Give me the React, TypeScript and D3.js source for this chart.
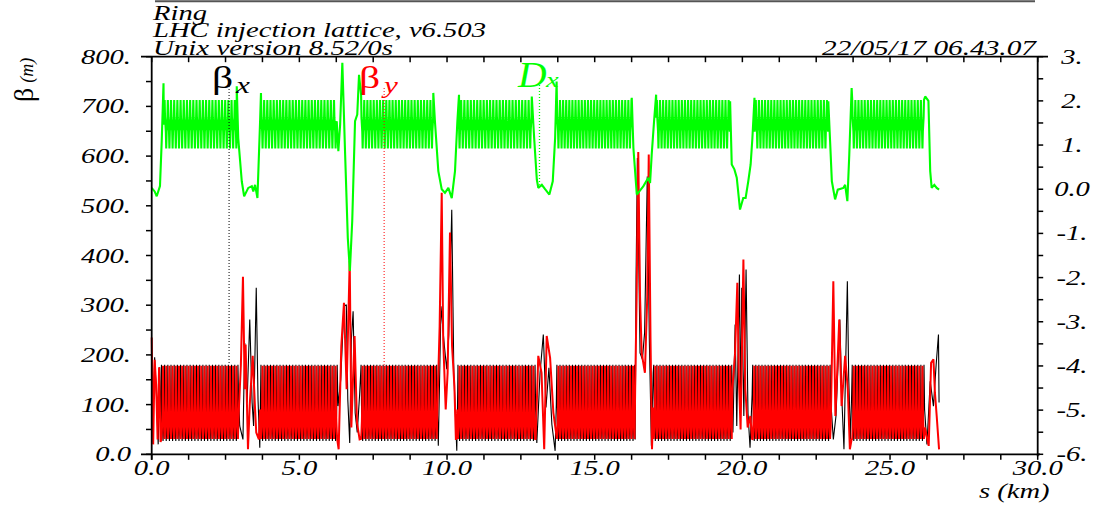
import React from 'react';
import * as d3 from 'd3';

const W = 1099;
const H = 506;

// ---------- axis values / labels ----------
const sLabelValues = [0, 5, 10, 15, 20, 25, 30];
const sTickLabels = ['0.0', '5.0', '10.0', '15.0', '20.0', '25.0', '30.0'];
const betaLabelValues = [0, 100, 200, 300, 400, 500, 600, 700, 800];
const betaTickLabels = ['0.0', '100.', '200.', '300.', '400.', '500.', '600.', '700.', '800.'];
const dxLabelValues = [3, 2, 1, 0, -1, -2, -3, -4, -5, -6];
const dxTickLabels = ['3.', '2.', '1.', '0.0', '-1.', '-2.', '-3.', '-4.', '-5.', '-6.'];

// ---------- lattice: arcs made of FODO cells ----------
const arcStart = [0.33, 3.70, 7.09, 10.37, 13.72, 17.00, 20.35, 23.72];
const arcEnd = [2.92, 6.28, 9.65, 12.98, 16.35, 19.64, 22.97, 26.15];
const cellLength = 0.1069; // km
const cellPhase = [0, 0.125, 0.25, 0.375, 0.5, 0.625, 0.75, 0.875];
const cellBetaX = [180, 100, 64, 44, 27, 44, 64, 100];
const cellBetaY = [31, 46, 66, 102, 178, 102, 66, 46];
const cellDx = [2.02, 1.62, 1.46, 1.3, 0.92, 1.3, 1.46, 1.62];

// ---------- insertion regions (s [km], value) ----------
const betaXInsertions: number[][][] = [
  [[0, 170], [0.04, 60], [0.10, 195], [0.16, 120], [0.22, 20], [0.27, 175], [0.32, 30]],
  [[2.94, 120], [2.98, 57], [3.09, 30], [3.15, 224], [3.23, 104], [3.32, 271], [3.40, 104], [3.45, 57], [3.54, 335], [3.60, 110], [3.66, 13]],
  [[6.31, 97], [6.40, 150], [6.51, 298], [6.59, 301], [6.64, 110], [6.705, 23], [6.76, 231], [6.82, 288], [6.89, 83], [6.96, 44], [7.04, 120]],
  [[9.67, 90], [9.705, 17], [9.795, 298], [9.91, 218], [9.99, 171], [10.06, 240], [10.16, 492], [10.23, 164], [10.33, 7], [10.36, 120]],
  [[13.0, 90], [13.04, 23], [13.15, 164], [13.26, 241], [13.35, 94], [13.45, 174], [13.55, 60], [13.66, 7], [13.70, 100]],
  [[16.37, 30], [16.40, 352], [16.445, 596], [16.535, 204], [16.615, 191], [16.69, 245], [16.78, 559], [16.85, 231], [16.92, 17], [16.98, 164]],
  [[19.66, 100], [19.68, 44], [19.755, 261], [19.81, 57], [19.90, 362], [19.94, 97], [19.98, 335], [20.05, 77], [20.125, 372], [20.19, 83], [20.26, 13], [20.33, 120]],
  [[22.99, 110], [23.08, 30], [23.17, 77], [23.30, 271], [23.37, 110], [23.44, 10], [23.555, 348], [23.60, 157], [23.66, 30], [23.70, 120]],
  [[26.17, 90], [26.25, 20], [26.36, 147], [26.47, 97], [26.56, 179], [26.64, 241], [26.66, 104]],
];

const betaYInsertions: number[][][] = [
  [[0, 235], [0.05, 20], [0.10, 190], [0.15, 140], [0.20, 30], [0.25, 175], [0.30, 25]],
  [[2.94, 76], [3.02, 180], [3.09, 357], [3.15, 131], [3.18, 221], [3.26, 10], [3.32, 100], [3.42, 198], [3.50, 91], [3.54, 44], [3.63, 30], [3.67, 90]],
  [[6.33, 10], [6.42, 218], [6.51, 305], [6.60, 131], [6.705, 389], [6.76, 54], [6.82, 157], [6.87, 238], [6.95, 64], [7.04, 30]],
  [[9.69, 130], [9.75, 258], [9.82, 526], [9.87, 231], [9.955, 90], [10.02, 164], [10.10, 446], [10.17, 218], [10.25, 137], [10.30, 29], [10.35, 90]],
  [[13.0, 30], [13.09, 198], [13.20, 164], [13.29, 10], [13.375, 238], [13.49, 194], [13.60, 84], [13.69, 44]],
  [[16.37, 130], [16.42, 318], [16.475, 608], [16.535, 318], [16.59, 204], [16.70, 164], [16.78, 318], [16.83, 603], [16.89, 231], [16.94, 10], [16.98, 94]],
  [[19.66, 131], [19.75, 200], [19.83, 345], [19.88, 157], [19.94, 50], [20.035, 392], [20.10, 131], [20.18, 54], [20.27, 77], [20.33, 30]],
  [[22.99, 54], [23.08, 348], [23.15, 77], [23.22, 179], [23.28, 271], [23.36, 97], [23.48, 198], [23.57, 131], [23.64, 10], [23.70, 30]],
  [[26.18, 54], [26.31, 17], [26.39, 184], [26.47, 191], [26.52, 124], [26.58, 77], [26.66, 10]],
];

const dxInsertions: number[][][] = [
  [[0, 0.03], [0.10, -0.05], [0.17, -0.16], [0.28, 0.07], [0.34, 1.1], [0.40, 2.4]],
  [[2.88, 2.33], [2.93, 1.16], [3.05, 0.18], [3.13, -0.16], [3.27, 0.03], [3.39, 0.07], [3.44, -0.05], [3.50, 0.10], [3.58, -0.2], [3.67, 1.54], [3.70, 2.18]],
  [[6.265, 1.54], [6.32, 0.86], [6.38, 1.46], [6.455, 2.86], [6.55, 0.78], [6.64, -1.1], [6.71, -1.85], [6.79, -0.72], [6.885, 1.54], [6.96, 1.69], [7.02, 2.59], [7.09, 2.14]],
  [[9.535, 2.18], [9.59, 1.54], [9.705, 0.41], [9.82, 0.0], [9.93, -0.08], [10.045, 0.03], [10.16, -0.2], [10.27, 0.41], [10.35, 1.54], [10.405, 2.14]],
  [[12.87, 2.1], [12.95, 1.16], [13.04, 0.22], [13.09, 0.03], [13.21, 0.10], [13.32, 0.0], [13.465, -0.12], [13.58, 0.18], [13.66, 1.16], [13.71, 2.44]],
  [[16.255, 2.07], [16.31, 0.94], [16.425, -0.12], [16.65, 0.07], [16.815, 0.26], [16.875, 0.14], [16.93, 0.78], [17.01, 1.54], [17.08, 2.14]],
  [[19.585, 1.99], [19.64, 0.56], [19.73, 0.45], [19.81, 0.26], [19.92, -0.46], [20.03, -0.2], [20.11, -0.2], [20.20, 0.18], [20.28, 0.56], [20.34, 1.16], [20.41, 2.07]],
  [[22.91, 1.99], [22.97, 1.09], [23.03, 0.18], [23.14, -0.23], [23.23, -0.01], [23.42, 0.03], [23.48, 0.10], [23.555, -0.27], [23.62, 0.78], [23.70, 2.29]],
  [[26.19, 2.1], [26.30, 2.0], [26.36, 0.41], [26.41, 0.03], [26.50, 0.10], [26.58, 0.03], [26.66, -0.01]],
];

// legend markers (s position of dotted line)
const legendS = { bx: 2.62, by: 7.87, dx: 13.13 };

// ---------- build ----------
function buildSeries(profile: number[], insertions: number[][][]): number[][] {
  const ranges = insertions.map((g) => [g[0][0], g[g.length - 1][0]]);
  const pts: number[][] = [];
  arcStart.forEach((a, i) => {
    const b = arcEnd[i];
    const n = Math.round((b - a) / cellLength);
    const L = (b - a) / n;
    for (let c = 0; c < n; c++) {
      cellPhase.forEach((p, k) => pts.push([a + (c + p) * L, profile[k]]));
    }
    pts.push([b, profile[0]]);
  });
  const kept = pts.filter(([s]) => !ranges.some(([lo, hi]) => s >= lo && s <= hi));
  return kept.concat(insertions.flat()).sort((p, q) => p[0] - q[0]);
}

const FONT = "'Liberation Serif'";
const SX = 1.3;

function T(props: { x: number; y: number; children: React.ReactNode; size?: number; anchor?: string; fill?: string; italic?: boolean; sx?: number }) {
  const { x, y, children, size = 22, anchor = 'start', fill = '#000', italic = true, sx = SX } = props;
  return (
    <text
      transform={`translate(${x},${y}) scale(${sx},1)`}
      style={{ fontFamily: FONT, fontSize: size, fontStyle: italic ? 'italic' : 'normal' }}
      textAnchor={anchor}
      fill={fill}
    >
      {children}
    </text>
  );
}

export default function App() {
  const x = d3.scaleLinear().domain([0, 30]).range([151.7, 1037.7]);
  const yB = d3.scaleLinear().domain([0, 800]).range([454.3, 56.7]);
  const yD = d3.scaleLinear().domain([-6, 3]).range([454.3, 56.7]);

  const bx = buildSeries(cellBetaX, betaXInsertions);
  const by = buildSeries(cellBetaY, betaYInsertions);
  const dx = buildSeries(cellDx, dxInsertions);

  const lineB = d3.line<number[]>().x((d) => x(d[0])).y((d) => yB(d[1]));
  const lineD = d3.line<number[]>().x((d) => x(d[0])).y((d) => yD(d[1]));

  const sMinor = d3.range(0, 30.001, 1.25);
  const bMinor = d3.range(0, 800.001, 50);
  const dMinor = d3.range(-6, 3.001, 0.5);

  const top = yB(800);
  const bottom = yB(0);
  const left = x(0);
  const right = x(30);
  const axisW = 1.8;
  const headStyle = { fontFamily: FONT, fontSize: 22, fontStyle: 'italic' as const };

  return (
    <svg width={W} height={H} style={{ position: 'absolute', left: 0, top: 0, background: '#fff' }}>
      <rect x={0} y={0} width={W} height={H} fill="#fff" />
      {/* header rule */}
      <line x1={155} x2={1035} y1={1.2} y2={1.2} stroke="#555" strokeWidth={2} />

      {/* curves */}
      <path d={lineB(bx) || ''} fill="none" stroke="#000" strokeWidth={1.1} strokeLinejoin="miter" strokeMiterlimit={2} />
      <path d={lineB(by) || ''} fill="none" stroke="#ff0000" strokeWidth={2} strokeLinejoin="miter" strokeMiterlimit={2} />
      <path d={lineD(dx) || ''} fill="none" stroke="#00ff00" strokeWidth={2.1} strokeLinejoin="miter" strokeMiterlimit={2} />

      {/* frame */}
      <line x1={141} x2={1048} y1={top} y2={top} stroke="#000" strokeWidth={axisW} />
      <line x1={141} x2={1040} y1={bottom} y2={bottom} stroke="#000" strokeWidth={axisW} />
      <line x1={left} x2={left} y1={top} y2={bottom + 5.5} stroke="#000" strokeWidth={axisW} />
      <line x1={right} x2={right} y1={top} y2={bottom + 2} stroke="#000" strokeWidth={axisW} />

      {sMinor.map((s) => (
        <g key={'s' + s}>
          <line x1={x(s)} x2={x(s)} y1={bottom} y2={bottom + 5.5} stroke="#000" strokeWidth={1.5} />
          <line x1={x(s)} x2={x(s)} y1={top} y2={top + 5.5} stroke="#000" strokeWidth={1.5} />
        </g>
      ))}
      {bMinor.map((b) => (
        <line key={'b' + b} x1={left - 5.7} x2={left} y1={yB(b)} y2={yB(b)} stroke="#000" strokeWidth={1.5} />
      ))}
      {dMinor.map((d) => (
        <line key={'d' + d} x1={right} x2={right + 5.5} y1={yD(d)} y2={yD(d)} stroke="#000" strokeWidth={1.5} />
      ))}

      {/* tick labels */}
      {sLabelValues.map((s, i) => (
        <T key={'sl' + s} x={x(s)} y={475} anchor="middle">{sTickLabels[i]}</T>
      ))}
      {betaLabelValues.map((b, i) => (
        <T key={'bl' + b} x={131} y={yB(b) + 7} anchor="end">{betaTickLabels[i]}</T>
      ))}
      {dxLabelValues.map((d, i) => (
        <T key={'dl' + d} x={1072} y={yD(d) + 7} anchor="middle">{dxTickLabels[i]}</T>
      ))}

      {/* axis titles */}
      <T x={979} y={498}>s (km)</T>
      <text transform="translate(33,102) rotate(-90)" style={{ fontFamily: FONT }} fill="#000">
        <tspan style={{ fontSize: 28 }}>β</tspan>
        <tspan style={{ fontSize: 18, fontStyle: 'italic' }} dx={5}>(m)</tspan>
      </text>

      {/* header texts */}
      <T x={153} y={20}>Ring</T>
      <text x={153} y={37} style={headStyle} textLength={333} lengthAdjust="spacingAndGlyphs">LHC injection lattice, v6.503</text>
      <text x={153} y={55} style={headStyle} textLength={240} lengthAdjust="spacingAndGlyphs">Unix version 8.52/0s</text>
      <text x={822} y={55} style={headStyle} textLength={214} lengthAdjust="spacingAndGlyphs">22/05/17 06.43.07</text>

      {/* legend */}
      <line x1={x(legendS.bx)} x2={x(legendS.bx)} y1={80} y2={yB(180)} stroke="#000" strokeWidth={1} strokeDasharray="1,2" />
      <line x1={x(legendS.by)} x2={x(legendS.by)} y1={88} y2={yB(180)} stroke="#ff0000" strokeWidth={1} strokeDasharray="1,2" />
      <line x1={x(legendS.dx)} x2={x(legendS.dx)} y1={85} y2={yD(0.1)} stroke="#00ff00" strokeWidth={1.3} strokeDasharray="1,2" />

      <T x={212} y={88} size={32} italic={false}>β</T>
      <T x={236} y={93} size={24}>x</T>
      <T x={359} y={88} size={32} italic={false} fill="#ff0000">β</T>
      <T x={384} y={93} size={24} fill="#ff0000">y</T>
      <T x={518} y={87} size={36} fill="#00ff00" sx={1.1}>D</T>
      <T x={546} y={87} size={22} fill="#00ff00">x</T>
    </svg>
  );
}
